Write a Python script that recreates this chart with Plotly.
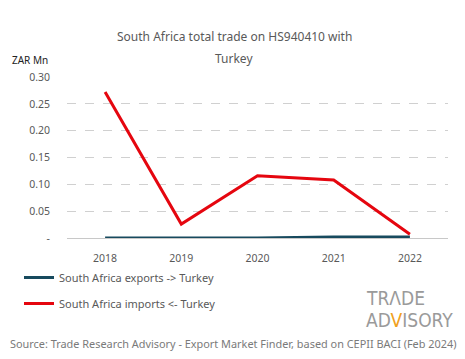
import plotly.graph_objects as go

years = ["2018", "2019", "2020", "2021", "2022"]
exports = [0.0, 0.0, 0.0, 0.002, 0.002]
imports = [0.272, 0.026, 0.116, 0.108, 0.007]
yticks = [0, 0.05, 0.10, 0.15, 0.20, 0.25, 0.30]
yticklabels = ["-", "0.05", "0.10", "0.15", "0.20", "0.25", "0.30"]

FONT = "Noto Sans, Open Sans, sans-serif"
GRAY = "#595959"
L, T, B = 67, 77, 238
W = 381
H = B - T

def px(x):
    return (x - L) / W

def py(y):
    return (B - y) / H

fig = go.Figure()
fig.add_trace(go.Scatter(x=years, y=exports, mode="lines", name="South Africa exports -> Turkey",
                         line=dict(color="#174a5e", width=3), legendgroup="a"))
fig.add_trace(go.Scatter(x=years, y=imports, mode="lines", name="South Africa imports <- Turkey",
                         line=dict(color="#e5060f", width=3), legendgroup="b"))

fig.update_layout(
    width=465, height=359,
    margin=dict(l=L, r=465 - L - W, t=T, b=359 - B, autoexpand=False),
    paper_bgcolor="white", plot_bgcolor="white",
    font=dict(family=FONT, color=GRAY, size=10),
    xaxis=dict(type="category", range=[-0.5, 4.5], showgrid=False, showline=False, ticks="",
               tickfont=dict(size=10.5, color=GRAY), automargin=False, ticklabelstandoff=12),
    yaxis=dict(range=[0, 0.3], tickvals=yticks, ticktext=yticklabels, showgrid=True,
               gridcolor="#d0d0d0", griddash="dash", gridwidth=1,
               zeroline=True, zerolinecolor="#c8c8c8", zerolinewidth=1,
               tickfont=dict(size=10.5, color=GRAY), ticklabelstandoff=16, automargin=False),
    legend=dict(x=px(19), xanchor="left", y=py(263), yanchor="top", tracegroupgap=7,
                font=dict(size=11, color=GRAY), bgcolor="rgba(0,0,0,0)", itemwidth=30),
    showlegend=True,
)

for txt, y in [("South Africa total trade on HS940410 with", 37), ("Turkey", 58)]:
    fig.add_annotation(text=txt, xref="paper", yref="paper", x=px(234), y=py(y),
                       xanchor="center", yanchor="middle", showarrow=False,
                       font=dict(size=12, color=GRAY))

fig.add_annotation(text="ZAR Mn", xref="paper", yref="paper", x=px(10), y=py(60),
                   xanchor="left", yanchor="middle", showarrow=False, font=dict(size=10, color="#222222"))
LOGO = "Liberation Sans Narrow, DejaVu Sans Condensed, sans-serif"
fig.add_annotation(text="TRΛDE", xref="paper", yref="paper", x=px(364), y=py(298),
                   xanchor="left", yanchor="middle", showarrow=False,
                   font=dict(size=19, color="#9a9a9a", family=LOGO))
fig.add_annotation(text="AD<span style='color:#f0a020'>V</span>ISORY", xref="paper", yref="paper",
                   x=px(364), y=py(320),
                   xanchor="left", yanchor="middle", showarrow=False,
                   font=dict(size=19, color="#9a9a9a", family=LOGO))
fig.add_annotation(text="Source: Trade Research Advisory - Export Market Finder, based on CEPII BACI (Feb 2024)",
                   xref="paper", yref="paper", x=px(233), y=py(343),
                   xanchor="center", yanchor="middle", showarrow=False, font=dict(size=10.9, color="#7a7a7a"))

fig.write_html("out.html", config={"displayModeBar": False},
               post_script="document.body.style.margin='0';")
